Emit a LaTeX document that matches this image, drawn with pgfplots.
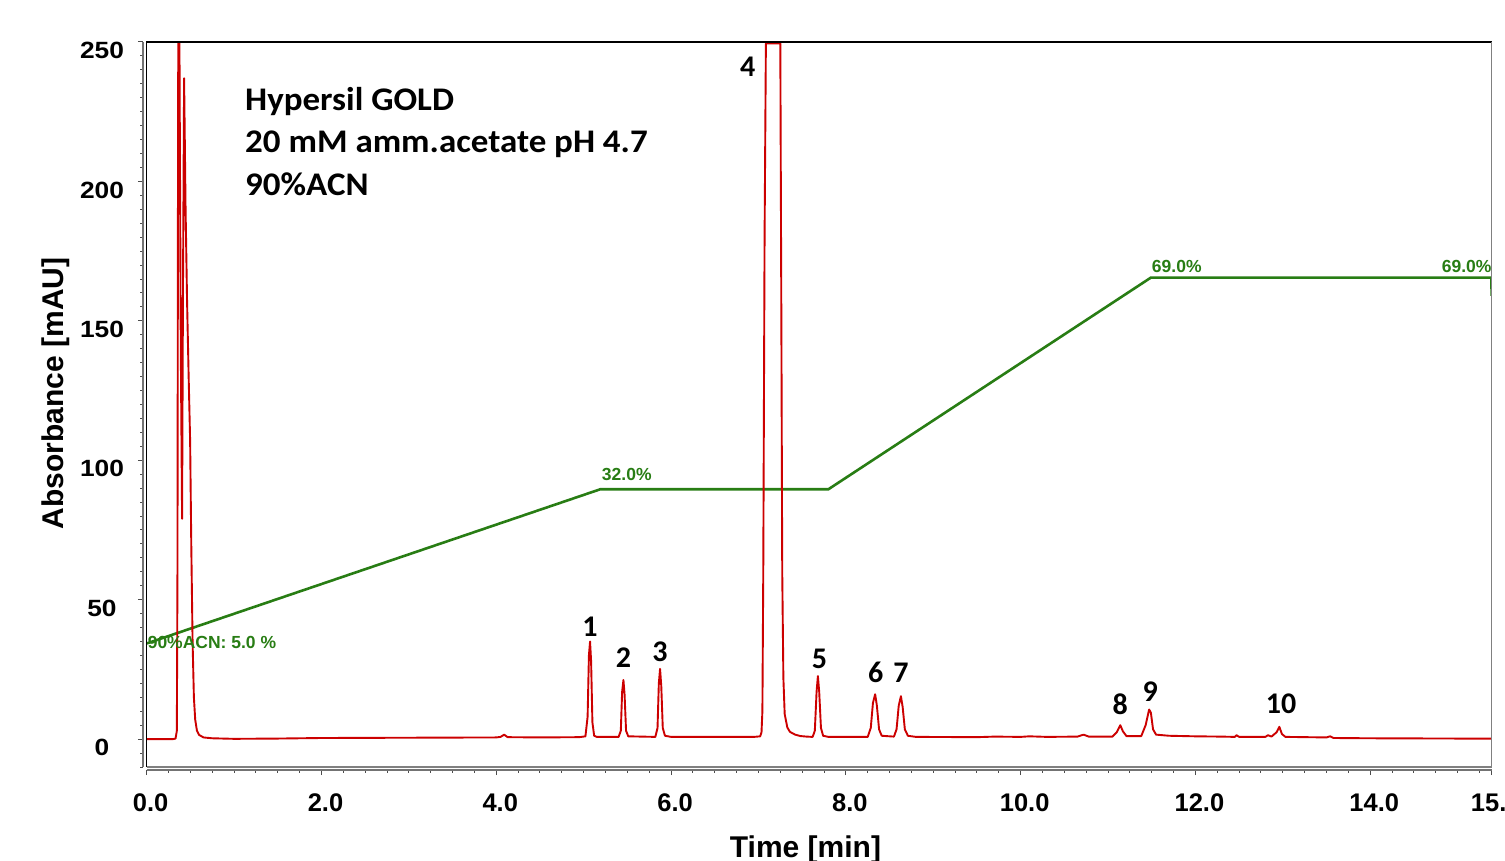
\documentclass[border=0pt]{standalone}
\usepackage{pgfplots}
\pgfplotsset{compat=1.18}
\usepackage{fontspec}
\setmainfont{Liberation Sans}
\newfontfamily\ystretch{Liberation Sans}[FakeStretch=1.12]
\newfontfamily\calfont{Carlito}
\newfontfamily\calwide{Carlito}[FakeStretch=1.06]

\definecolor{trace}{RGB}{204,0,0}
\definecolor{grad}{RGB}{40,125,20}

\begin{document}
\begin{tikzpicture}
\begin{axis}[
  scale only axis,
  width=1345pt, height=725pt,
  xmin=0, xmax=15.39,
  ymin=-10, ymax=250,
  axis x line*=bottom, axis y line*=left,
  axis x line shift=3pt, axis y line shift=3.7pt,
  axis line style={draw=black!55, line width=1.5pt, -},
  tick align=outside,
  major tick length=5pt, minor tick length=2.6pt,
  tick style={black!70, line width=1pt},
  xtick={0,2,4,6,8,10,12,14,15.39},
  xticklabels={0.0,2.0,4.0,6.0,8.0,10.0,12.0,14.0,15.4},
  minor xtick={0,0.25,...,15.25},
  ytick={0,50,...,250},
  yticklabels={0,50,100,150,200,250},
  minor ytick={-10,-5,...,245},
  xticklabel style={font=\fontsize{25.5}{30}\selectfont\bfseries, yshift=-15pt, xshift=4pt},
  yticklabel style={font=\ystretch\fontsize{23.5}{27}\selectfont\bfseries, anchor=center, xshift=-36pt, yshift=-8.5pt},
  xlabel={Time [min]},
  ylabel={Absorbance [mAU]},
  label style={font=\fontsize{30}{36}\selectfont\bfseries},
  xlabel style={at={(axis description cs:0.4898,-0.1245)}, anchor=base},
  ylabel style={at={(axis description cs:-0.0622,0.5152)}, anchor=base},
  clip mode=individual,
]
  % gradient profile
  \addplot[grad, line width=2.6pt] coordinates {
    (0,34.3) (5.19,89.6) (7.80,89.6) (11.49,165.5) (15.385,165.5) (15.39,159)
  };
  % chromatogram
  \addplot[trace, line width=1.9pt, line join=round] coordinates {
    (0,0) (0.30,0) (0.33,0.2) (0.345,3) (0.352,60) (0.358,200) (0.363,280)
    (0.372,270) (0.39,140) (0.405,79) (0.415,160) (0.428,237) (0.445,190)
    (0.462,157) (0.48,130) (0.497,107) (0.51,70) (0.525,35) (0.54,15)
    (0.555,7) (0.575,3) (0.6,1.5) (0.65,0.6) (0.75,0.3) (1.0,0.1) (1.5,0.2)
    (2.0,0.4) (3.0,0.5) (4.0,0.6) (4.05,0.8) (4.09,1.6) (4.13,0.7) (4.5,0.6)
    (4.95,0.7) (5.02,1.0) (5.045,8) (5.06,30) (5.073,35) (5.085,28) (5.10,6)
    (5.12,1.2) (5.15,0.8) (5.40,0.8) (5.425,3) (5.44,17) (5.455,21.2)
    (5.468,16) (5.485,3) (5.51,1) (5.82,0.8) (5.845,4) (5.86,20) (5.874,25.2)
    (5.888,19) (5.905,4) (5.93,1.2) (6.0,0.8) (6.5,0.8) (6.95,0.8) (7.02,1.0)
    (7.035,2.5) (7.045,10) (7.055,60) (7.07,180) (7.085,249.5) (7.25,249.5)
    (7.262,150) (7.272,60) (7.285,22) (7.30,9) (7.33,4.2) (7.36,2.6)
    (7.42,1.6) (7.48,1.1) (7.55,0.9) (7.62,0.8) (7.645,3) (7.665,17)
    (7.68,22.6) (7.695,17) (7.715,4) (7.74,1.2) (7.8,0.8) (8.25,0.8)
    (8.285,4) (8.31,13) (8.335,16.1) (8.355,12) (8.38,3.5) (8.41,1.2)
    (8.55,0.9) (8.58,3.5) (8.605,12) (8.63,15.4) (8.65,11.5) (8.675,3.5)
    (8.71,1.2) (8.8,0.8) (9.5,0.7) (9.7,0.9) (10.0,0.8) (10.1,1.0) (10.3,0.8)
    (10.65,0.9) (10.72,1.6) (10.78,0.9) (11.05,0.9) (11.10,2.5) (11.14,5.0)
    (11.17,2.8) (11.21,1.1) (11.38,1.1) (11.43,5) (11.47,10.6) (11.49,9.5)
    (11.515,3.5) (11.55,1.6) (11.7,1.2) (12.0,1.0) (12.3,0.9) (12.45,0.8)
    (12.47,1.4) (12.5,0.8) (12.8,0.8) (12.83,1.4) (12.87,0.9) (12.93,2.5)
    (12.96,4.4) (12.99,1.8) (13.03,0.8) (13.5,0.6) (13.54,1.0) (13.58,0.4)
    (14,0.3) (15,0.2) (15.39,0.2)
  };
  % frame
  \draw[black, line width=1.2pt] (rel axis cs:0,0) -- (rel axis cs:0,1) -- (rel axis cs:1,1);
  \draw[black!50, line width=1.5pt] (rel axis cs:1,1) -- (rel axis cs:1,0) -- (rel axis cs:0,0);
  % gradient labels
  \begin{scope}[every node/.style={inner sep=0pt, text=grad, font=\fontsize{17.5}{20}\selectfont\bfseries}]
    \node[anchor=base west] at (axis cs:0.01,32.5) {90\%ACN: 5.0 \%};
    \node[anchor=base west] at (axis cs:5.207,92.9) {32.0\%};
    \node[anchor=base west] at (axis cs:11.50,167.3) {69.0\%};
    \node[anchor=base east] at (axis cs:15.39,167.3) {69.0\%};
  \end{scope}
  % method text
  \begin{scope}[every node/.style={inner sep=0pt, anchor=base west, font=\calwide\fontsize{33}{38}\selectfont\bfseries}]
    \node at (axis cs:1.125,225.6) {Hypersil GOLD};
    \node at (axis cs:1.125,210.2) {20 mM amm.acetate pH 4.7};
    \node at (axis cs:1.125,194.8) {90\%ACN};
  \end{scope}
  % peak numbers
  \begin{scope}[every node/.style={inner sep=0pt, anchor=base, font=\calfont\fontsize{30}{34}\selectfont\bfseries}]
    \node at (axis cs:5.073,36.7) {1};
    \node at (axis cs:5.455,25.6) {2};
    \node at (axis cs:5.874,27.7) {3};
    \node at (axis cs:6.878,237.8) {4};
    \node at (axis cs:7.697,25.4) {5};
    \node at (axis cs:8.343,20.2) {6};
    \node at (axis cs:8.632,20.2) {7};
    \node at (axis cs:11.139,8.86) {8};
    \node at (axis cs:11.482,13.6) {9};
    \node at (axis cs:12.981,9.2) {10};
  \end{scope}
\end{axis}
\pgfresetboundingbox
\path (-146.7pt,-93pt) rectangle (1358.3pt,767pt);
\end{tikzpicture}
\end{document}
